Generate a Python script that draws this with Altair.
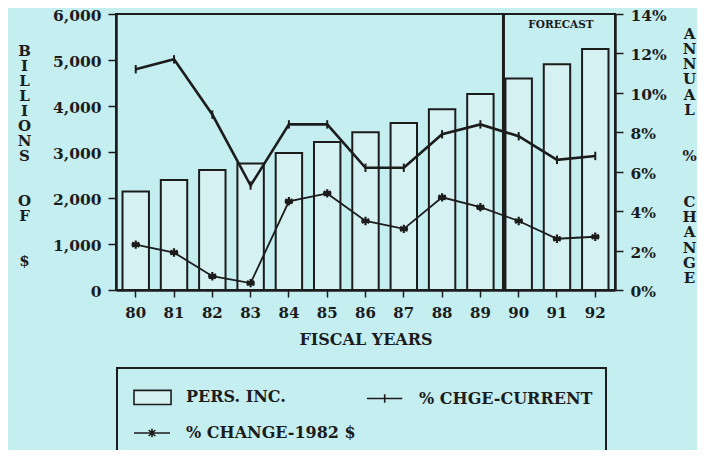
import altair as alt
import pandas as pd

# ---- data ----
years = ["80", "81", "82", "83", "84", "85", "86", "87", "88", "89", "90", "91", "92"]
pers_inc = [2140, 2390, 2610, 2750, 2980, 3220, 3430, 3630, 3930, 4260, 4600, 4910, 5240]
chg_current = [11.2, 11.7, 8.9, 5.3, 8.4, 8.4, 6.2, 6.2, 7.9, 8.4, 7.8, 6.6, 6.8]
chg_1982 = [2.3, 1.9, 0.7, 0.35, 4.5, 4.9, 3.5, 3.1, 4.7, 4.2, 3.5, 2.6, 2.7]
left_ticks = [0, 1000, 2000, 3000, 4000, 5000, 6000]
right_ticks = [0, 2, 4, 6, 8, 10, 12, 14]
forecast_year = ["90"]
forecast_label = ["FORECAST"]
forecast_label_pos = [13.45]
legend_names = ["PERS. INC.", "% CHGE-CURRENT", "% CHANGE-1982 $"]

BG = "#c4eef0"
INK = "#1c1c1c"
BAR_FILL = "#d6f1f1"
FONT = "DejaVu Serif"
BL = "\u2800"  # blank (braille) line so the gap is kept

left_title = list("BILLIONS") + [BL, BL] + list("OF") + [BL, BL] + ["$"]
right_title = list("ANNUAL") + [BL, BL] + ["%"] + [BL, BL] + list("CHANGE")

bars_df = pd.DataFrame({"year": years, "inc": pers_inc})
cur_df = pd.DataFrame({"year": years, "pct": chg_current})
real_df = pd.DataFrame({"year": years, "pct": chg_1982})
rule_df = pd.DataFrame({"year": forecast_year})
text_df = pd.DataFrame({"year": ["91"], "pct": forecast_label_pos, "label": forecast_label})
legend_df = pd.DataFrame({"series": legend_names})

x_scale = alt.Scale(paddingInner=0.31, paddingOuter=0.17)
x_axis = alt.Axis(
    title="FISCAL YEARS", labelAngle=0, tickSize=7, tickWidth=1.5, tickColor=INK,
    domainColor=INK, domainWidth=2.5, labelPadding=8, titlePadding=11,
    labelFontSize=15, titleFontSize=16,
)


def xenc(**kw):
    return alt.X("year:N", scale=x_scale, axis=x_axis, sort=years, **kw)


bars = alt.Chart(bars_df).mark_bar(
    fill=BAR_FILL, stroke=INK, strokeWidth=2
).encode(
    x=xenc(),
    y=alt.Y(
        "inc:Q",
        scale=alt.Scale(domain=[0, 6000], nice=False),
        axis=alt.Axis(
            values=left_ticks, format=",d", orient="left", title=left_title,
            titleAngle=0, titleAlign="center", titleBaseline="middle",
            titleX=-92, titleY=36, titleLineHeight=15,
            tickSize=8, tickWidth=1.5, tickColor=INK, domainColor=INK, domainWidth=2.5,
            labelPadding=7, labelFontSize=15.5, titleFontSize=15, grid=False, labelOffset=1.5,
        ),
    ),
)

rule = alt.Chart(rule_df).mark_rule(color=INK, strokeWidth=3, xOffset=-2).encode(
    x=xenc(bandPosition=0)
)

left = alt.layer(bars, rule)

y_right_scale = alt.Scale(domain=[0, 14], nice=False)
y_right = alt.Y(
    "pct:Q", scale=y_right_scale,
    axis=alt.Axis(
        values=right_ticks, labelExpr="datum.value + '%'", orient="right",
        title=right_title, titleAngle=0, titleAlign="center", titleBaseline="middle",
        titleX=74, titleY=19, titleLineHeight=15.3,
        tickSize=8, tickWidth=1.5, tickColor=INK, domainColor=INK, domainWidth=2.5,
        labelPadding=7, labelFontSize=15.5, titleFontSize=15, grid=False, labelOffset=1.5,
    ),
)

cur_line = alt.Chart(cur_df).mark_line(color=INK, strokeWidth=2.6).encode(x=xenc(), y=y_right)
cur_pts = alt.Chart(cur_df).mark_point(
    shape="M0,-1V1", size=70, stroke=INK, strokeWidth=2, filled=False, opacity=1
).encode(x=xenc(), y=y_right)
real_line = alt.Chart(real_df).mark_line(color=INK, strokeWidth=1.8).encode(x=xenc(), y=y_right)
real_pts = alt.Chart(real_df).mark_point(
    shape="M0,-1V1M-0.87,-0.5L0.87,0.5M-0.87,0.5L0.87,-0.5M-1,0H1",
    size=70, stroke=INK, strokeWidth=2.2, filled=False, opacity=1
).encode(x=xenc(), y=y_right)

label = alt.Chart(text_df).mark_text(
    font=FONT, fontWeight="bold", fontSize=10.5, color=INK, dx=4
).encode(x=xenc(), y=y_right, text="label:N")

rect_path = "M-0.8,-0.47H1.67V0.47H-0.8Z"
tick_path = "M-0.8,0H1.55M0.38,-0.28V0.28"
star_path = "M-0.8,0H1.6M0.4,-0.28V0.28M0.18,-0.2L0.62,0.2M0.18,0.2L0.62,-0.2"

leg = alt.Legend(
    title=None, orient="none", legendX=1, legendY=354, columns=2, direction="horizontal",
    symbolSize=900, labelOffset=24, padding=13, rowPadding=9, columnPadding=7,
    strokeColor=INK, labelFontSize=16, labelLimit=400,
    symbolStrokeColor=INK, symbolStrokeWidth=1.6,
)
legend_layer = alt.Chart(legend_df).mark_point(
    filled=False, strokeWidth=1.6, opacity=1, size=900
).encode(
    shape=alt.Shape("series:N", scale=alt.Scale(domain=legend_names,
                                                range=[rect_path, tick_path, star_path]), legend=leg),
    fill=alt.Fill("series:N", scale=alt.Scale(domain=legend_names,
                                              range=[BAR_FILL, "transparent", "transparent"]), legend=leg),
    stroke=alt.Stroke("series:N", scale=alt.Scale(domain=legend_names,
                                                  range=[INK, INK, INK]), legend=leg),
).transform_filter("datum.series == 'none'")

right = alt.layer(cur_line, real_line, cur_pts, real_pts, label, legend_layer)

chart = alt.layer(left, right).resolve_scale(y="independent").properties(
    width=499, height=276,
    autosize=alt.AutoSizeParams(type="none"),
    padding={"left": 108, "top": 6, "right": 82, "bottom": 160},
    background=BG,
).configure_view(
    stroke=INK, strokeWidth=2
).configure_axis(
    labelFont=FONT, titleFont=FONT, labelFontWeight="bold", titleFontWeight="bold",
    labelColor=INK, titleColor=INK,
).configure_legend(
    labelFont=FONT, labelFontWeight="bold", labelColor=INK, strokeWidth=2,
)

chart.save("out.html", embed_options={"renderer": "svg", "actions": False})
